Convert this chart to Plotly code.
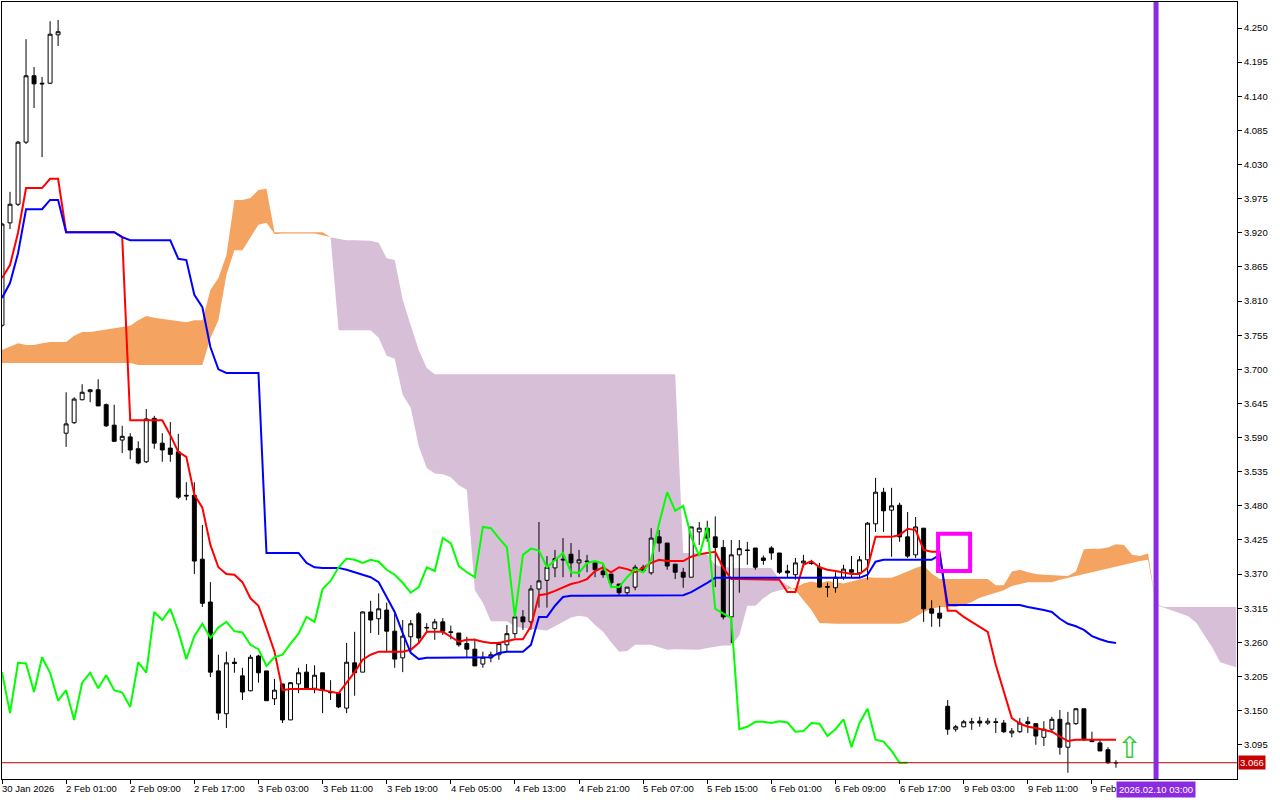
import plotly.graph_objects as go

# ---------------- data (H1 bars, index 0 = 30 Jan 2026 last bars) ----------------
opens = [
    3.771, 3.936, 3.966, 4.066, 4.173, 4.161, 4.161, 4.239, 3.597, 3.614,
    3.651, 3.664, 3.667, 3.643, 3.610, 3.586, 3.591, 3.572, 3.551, 3.621,
    3.581, 3.573, 3.567, 3.497, 3.497, 3.394, 3.325, 3.214, 3.145, 3.228,
    3.206, 3.182, 3.238, 3.214, 3.169, 3.193, 3.135, 3.193, 3.212, 3.186,
    3.211, 3.180, 3.178, 3.154, 3.227, 3.212, 3.309, 3.298, 3.312, 3.278,
    3.235, 3.269, 3.306, 3.283, 3.282, 3.293, 3.277, 3.275, 3.258, 3.249,
    3.225, 3.235, 3.240, 3.256, 3.274, 3.301, 3.293, 3.346, 3.360, 3.380,
    3.394, 3.402, 3.388, 3.391, 3.388, 3.375, 3.370, 3.354, 3.340, 3.349,
    3.381, 3.372, 3.430, 3.420, 3.386, 3.373, 3.365, 3.438, 3.444, 3.430,
    3.413, 3.301, 3.401, 3.409, 3.412, 3.396, 3.412, 3.404, 3.375, 3.369,
    3.388, 3.388, 3.381, 3.350, 3.348, 3.365, 3.377, 3.372, 3.393, 3.451,
    3.502, 3.473, 3.481, 3.430, 3.401, 3.444, 3.314, 3.307, 3.157, 3.120,
    3.124, 3.130, 3.133, 3.130, 3.132, 3.130, 3.114, 3.116, 3.132, 3.129,
    3.107, 3.120, 3.136, 3.091, 3.129, 3.153, 3.103, 3.098, 3.087, 3.066,
]
highs = [
    3.936, 3.986, 4.068, 4.232, 4.187, 4.171, 4.261, 4.263, 3.663, 3.655,
    3.676, 3.668, 3.684, 3.645, 3.643, 3.609, 3.597, 3.584, 3.636, 3.625,
    3.597, 3.615, 3.596, 3.518, 3.518, 3.449, 3.357, 3.240, 3.245, 3.235,
    3.219, 3.240, 3.240, 3.214, 3.201, 3.193, 3.196, 3.219, 3.225, 3.223,
    3.211, 3.199, 3.178, 3.259, 3.277, 3.310, 3.327, 3.339, 3.324, 3.307,
    3.296, 3.296, 3.309, 3.291, 3.298, 3.299, 3.287, 3.275, 3.269, 3.266,
    3.245, 3.245, 3.261, 3.288, 3.301, 3.312, 3.352, 3.454, 3.399, 3.409,
    3.428, 3.420, 3.409, 3.401, 3.388, 3.385, 3.370, 3.354, 3.349, 3.385,
    3.385, 3.444, 3.441, 3.420, 3.386, 3.380, 3.446, 3.454, 3.456, 3.463,
    3.425, 3.425, 3.425, 3.422, 3.412, 3.400, 3.415, 3.404, 3.385, 3.396,
    3.401, 3.393, 3.388, 3.356, 3.373, 3.385, 3.399, 3.399, 3.454, 3.525,
    3.509, 3.509, 3.485, 3.470, 3.462, 3.444, 3.328, 3.319, 3.167, 3.127,
    3.135, 3.138, 3.140, 3.138, 3.138, 3.135, 3.122, 3.138, 3.140, 3.129,
    3.133, 3.140, 3.151, 3.148, 3.154, 3.153, 3.116, 3.104, 3.091, 3.070,
]
lows = [
    3.768, 3.926, 3.963, 4.063, 4.121, 4.042, 4.160, 4.221, 3.575, 3.612,
    3.650, 3.647, 3.641, 3.607, 3.583, 3.565, 3.555, 3.547, 3.549, 3.572,
    3.551, 3.551, 3.491, 3.489, 3.370, 3.317, 3.204, 3.135, 3.122, 3.211,
    3.167, 3.181, 3.195, 3.166, 3.159, 3.130, 3.135, 3.178, 3.186, 3.178,
    3.146, 3.167, 3.154, 3.146, 3.174, 3.212, 3.275, 3.272, 3.246, 3.219,
    3.212, 3.243, 3.259, 3.275, 3.264, 3.272, 3.265, 3.253, 3.236, 3.222,
    3.219, 3.228, 3.232, 3.245, 3.267, 3.280, 3.280, 3.316, 3.316, 3.365,
    3.365, 3.365, 3.365, 3.373, 3.365, 3.364, 3.349, 3.336, 3.336, 3.344,
    3.373, 3.369, 3.406, 3.377, 3.362, 3.348, 3.365, 3.417, 3.422, 3.349,
    3.297, 3.259, 3.340, 3.385, 3.377, 3.385, 3.393, 3.370, 3.364, 3.361,
    3.381, 3.385, 3.348, 3.333, 3.340, 3.361, 3.365, 3.365, 3.361, 3.438,
    3.438, 3.398, 3.422, 3.396, 3.396, 3.293, 3.285, 3.285, 3.111, 3.116,
    3.123, 3.119, 3.124, 3.127, 3.114, 3.114, 3.107, 3.114, 3.114, 3.095,
    3.093, 3.114, 3.079, 3.050, 3.127, 3.101, 3.100, 3.085, 3.064, 3.058,
]
closes = [
    3.934, 3.966, 4.066, 4.173, 4.160, 4.160, 4.240, 4.244, 3.612, 3.652,
    3.663, 3.667, 3.641, 3.609, 3.584, 3.592, 3.570, 3.549, 3.620, 3.581,
    3.570, 3.563, 3.494, 3.496, 3.391, 3.323, 3.212, 3.146, 3.227, 3.226,
    3.180, 3.236, 3.211, 3.166, 3.183, 3.135, 3.195, 3.211, 3.186, 3.207,
    3.183, 3.179, 3.156, 3.228, 3.211, 3.309, 3.296, 3.314, 3.278, 3.233,
    3.270, 3.290, 3.267, 3.284, 3.293, 3.278, 3.276, 3.256, 3.249, 3.222,
    3.236, 3.240, 3.258, 3.274, 3.301, 3.293, 3.346, 3.359, 3.381, 3.395,
    3.393, 3.388, 3.393, 3.390, 3.377, 3.369, 3.356, 3.340, 3.349, 3.381,
    3.375, 3.428, 3.420, 3.383, 3.373, 3.365, 3.446, 3.444, 3.428, 3.413,
    3.301, 3.401, 3.411, 3.408, 3.381, 3.392, 3.404, 3.373, 3.372, 3.388,
    3.391, 3.387, 3.349, 3.349, 3.365, 3.378, 3.373, 3.393, 3.452, 3.502,
    3.472, 3.480, 3.430, 3.399, 3.446, 3.314, 3.307, 3.299, 3.120, 3.124,
    3.132, 3.132, 3.130, 3.133, 3.131, 3.116, 3.117, 3.130, 3.129, 3.109,
    3.120, 3.136, 3.091, 3.130, 3.153, 3.103, 3.100, 3.085, 3.066, 3.066,
]
tenkan = [
    3.847, 3.868, 3.920, 3.992, 3.992, 3.992, 4.007, 4.007, 3.921, 3.921,
    3.921, 3.921, 3.921, 3.921, 3.921, 3.913, 3.618, 3.618, 3.618, 3.618,
    3.618, 3.594, 3.567, 3.559, 3.498, 3.477, 3.417, 3.381, 3.370, 3.369,
    3.357, 3.331, 3.319, 3.283, 3.245, 3.183, 3.185, 3.185, 3.185, 3.185,
    3.183, 3.180, 3.178, 3.195, 3.212, 3.232, 3.240, 3.245, 3.245, 3.245,
    3.245, 3.248, 3.259, 3.277, 3.277, 3.277, 3.269, 3.261, 3.264, 3.264,
    3.261, 3.259, 3.259, 3.262, 3.265, 3.265, 3.286, 3.336, 3.338, 3.343,
    3.348, 3.354, 3.357, 3.362, 3.375, 3.381, 3.373, 3.381, 3.378, 3.373,
    3.380, 3.388, 3.393, 3.391, 3.391, 3.391, 3.398, 3.402, 3.404, 3.406,
    3.380, 3.362, 3.362, 3.362, 3.362, 3.362, 3.362, 3.361, 3.341, 3.341,
    3.385, 3.391, 3.381, 3.377, 3.375, 3.372, 3.370, 3.370, 3.380, 3.430,
    3.430, 3.430, 3.433, 3.443, 3.441, 3.409, 3.406, 3.406, 3.311, 3.311,
    3.301, 3.293, 3.286, 3.277, 3.224, 3.183, 3.138, 3.129, 3.124, 3.122,
    3.119, 3.116, 3.108, 3.101, 3.103, 3.103, 3.103, 3.103, 3.103, 3.103,
]
kijun = [
    3.815, 3.839, 3.887, 3.958, 3.958, 3.958, 3.973, 3.973, 3.921, 3.921,
    3.921, 3.921, 3.921, 3.921, 3.921, 3.913, 3.908, 3.908, 3.908, 3.908,
    3.908, 3.908, 3.878, 3.876, 3.820, 3.800, 3.736, 3.700, 3.694, 3.694,
    3.694, 3.694, 3.694, 3.404, 3.404, 3.404, 3.404, 3.404, 3.388, 3.381,
    3.380, 3.380, 3.380, 3.377, 3.373, 3.369, 3.365, 3.357, 3.332, 3.309,
    3.275, 3.243, 3.233, 3.235, 3.235, 3.235, 3.235, 3.235, 3.235, 3.235,
    3.235, 3.236, 3.243, 3.245, 3.245, 3.245, 3.256, 3.301, 3.301, 3.319,
    3.333, 3.335, 3.335, 3.335, 3.335, 3.335, 3.336, 3.336, 3.336, 3.336,
    3.336, 3.336, 3.336, 3.336, 3.336, 3.336, 3.341, 3.348, 3.356, 3.364,
    3.364, 3.364, 3.364, 3.364, 3.364, 3.364, 3.364, 3.364, 3.364, 3.364,
    3.364, 3.364, 3.364, 3.364, 3.364, 3.364, 3.364, 3.364, 3.369, 3.390,
    3.393, 3.393, 3.393, 3.393, 3.393, 3.393, 3.393, 3.401, 3.320, 3.320,
    3.320, 3.320, 3.320, 3.320, 3.320, 3.320, 3.320, 3.320, 3.317, 3.315,
    3.312, 3.309, 3.298, 3.290, 3.286, 3.280, 3.270, 3.265, 3.261, 3.259,
]
# Senkou spans as plotted (already displaced 26 bars forward), bars 0..154
span_a = [
    3.731, 3.736, 3.742, 3.739, 3.739, 3.742, 3.744, 3.744, 3.744, 3.754,
    3.760, 3.760, 3.762, 3.765, 3.767, 3.768, 3.770, 3.779, 3.786, 3.783,
    3.781, 3.779, 3.778, 3.776, 3.779, 3.779, 3.828, 3.847, 3.884, 3.973,
    3.973, 3.976, 3.989, 3.991, 3.921, 3.921, 3.921, 3.921, 3.921, 3.921,
    3.921, 3.913, 3.763, 3.763, 3.763, 3.763, 3.763, 3.751, 3.722, 3.717,
    3.659, 3.638, 3.576, 3.541, 3.532, 3.531, 3.526, 3.513, 3.506, 3.344,
    3.324, 3.294, 3.294, 3.294, 3.286, 3.283, 3.282, 3.280, 3.279, 3.286,
    3.293, 3.300, 3.303, 3.301, 3.288, 3.277, 3.260, 3.245, 3.246, 3.256,
    3.256, 3.256, 3.252, 3.248, 3.249, 3.249, 3.248, 3.248, 3.251, 3.253,
    3.255, 3.255, 3.271, 3.319, 3.319, 3.331, 3.340, 3.344, 3.346, 3.348,
    3.355, 3.358, 3.355, 3.359, 3.357, 3.355, 3.358, 3.362, 3.365, 3.364,
    3.364, 3.364, 3.369, 3.375, 3.380, 3.384, 3.371, 3.362, 3.362, 3.362,
    3.362, 3.362, 3.362, 3.362, 3.352, 3.352, 3.374, 3.377, 3.373, 3.370,
    3.369, 3.368, 3.367, 3.367, 3.374, 3.410, 3.411, 3.411, 3.413, 3.418,
    3.417, 3.401, 3.399, 3.403, 3.320, 3.316, 3.311, 3.307, 3.302, 3.292,
    3.272, 3.252, 3.228, 3.224, 3.220,
]
span_b = [
    3.710, 3.710, 3.710, 3.710, 3.710, 3.710, 3.710, 3.710, 3.710, 3.710,
    3.710, 3.710, 3.710, 3.710, 3.710, 3.710, 3.710, 3.707, 3.707, 3.707,
    3.707, 3.707, 3.707, 3.707, 3.707, 3.707, 3.750, 3.779, 3.852, 3.892,
    3.892, 3.912, 3.933, 3.936, 3.918, 3.919, 3.919, 3.919, 3.919, 3.919,
    3.916, 3.913, 3.910, 3.908, 3.908, 3.907, 3.907, 3.904, 3.879, 3.876,
    3.812, 3.771, 3.731, 3.702, 3.692, 3.692, 3.692, 3.692, 3.692, 3.692,
    3.692, 3.692, 3.692, 3.692, 3.692, 3.692, 3.692, 3.692, 3.692, 3.692,
    3.692, 3.692, 3.692, 3.692, 3.692, 3.692, 3.692, 3.692, 3.692, 3.692,
    3.692, 3.692, 3.692, 3.692, 3.692, 3.404, 3.404, 3.404, 3.401, 3.385,
    3.381, 3.380, 3.380, 3.380, 3.380, 3.380, 3.380, 3.361, 3.352, 3.344,
    3.328, 3.312, 3.291, 3.290, 3.290, 3.290, 3.290, 3.290, 3.290, 3.290,
    3.290, 3.290, 3.290, 3.293, 3.301, 3.309, 3.314, 3.317, 3.317, 3.317,
    3.320, 3.325, 3.332, 3.336, 3.341, 3.344, 3.351, 3.354, 3.357, 3.357,
    3.357, 3.357, 3.361, 3.364, 3.367, 3.370, 3.373, 3.377, 3.380, 3.383,
    3.385, 3.388, 3.391, 3.393, 3.322, 3.317, 3.317, 3.317, 3.317, 3.317,
    3.317, 3.317, 3.317, 3.317, 3.317,
]
CHIKOU_SHIFT = 26

tick_bars = [0, 8, 16, 24, 32, 40, 48, 56, 64, 72, 80, 88, 96, 104, 112, 120, 128, 136]
tick_labels = ["30 Jan 2026", "2 Feb 01:00", "2 Feb 09:00", "2 Feb 17:00", "3 Feb 03:00",
               "3 Feb 11:00", "3 Feb 19:00", "4 Feb 05:00", "4 Feb 13:00", "4 Feb 21:00",
               "5 Feb 07:00", "5 Feb 15:00", "6 Feb 01:00", "6 Feb 09:00", "6 Feb 17:00",
               "9 Feb 03:00", "9 Feb 11:00", "9 Feb"]
price_ticks = [4.250, 4.195, 4.140, 4.085, 4.030, 3.975, 3.920, 3.865, 3.810, 3.755, 3.700,
               3.645, 3.590, 3.535, 3.480, 3.425, 3.370, 3.315, 3.260, 3.205, 3.150, 3.095]

vline_bar = 144
vline_label = "2026.02.10 03:00"
rect_bars = [116.8, 120.8]
rect_prices = [3.375, 3.435]
arrow_bar = 140.7
arrow_price = 3.091

# cloud colour segments (start bar, end bar, kind)
cloud_segments = [(0, 41, "bull"), (41, 98, "bear"), (98, 144, "bull"), (144, 154, "bear")]

# ---------------- style ----------------
FONT = "Liberation Sans"
FSIZE = 9.5
SANDY = "#F4A460"
THISTLE = "#D8BFD8"
X_RANGE = [0, 154.1]
Y_RANGE = [3.0398, 4.2919]

fig = go.Figure()

# cloud (main axes, drawn underneath)
for s, e, kind in cloud_segments:
    xs = list(range(s, e + 1))
    fig.add_trace(go.Scatter(x=xs, y=span_a[s:e + 1], mode="lines", line=dict(width=0),
                             showlegend=False, hoverinfo="skip"))
    fig.add_trace(go.Scatter(x=xs, y=span_b[s:e + 1], mode="lines", line=dict(width=0),
                             fill="tonexty", fillcolor=SANDY if kind == "bull" else THISTLE,
                             showlegend=False, hoverinfo="skip"))

bars = list(range(len(closes)))
fig.add_trace(go.Candlestick(
    x=bars, open=opens, high=highs, low=lows, close=closes,
    increasing=dict(line=dict(color="black", width=1), fillcolor="white"),
    decreasing=dict(line=dict(color="black", width=1), fillcolor="black"),
    whiskerwidth=0, showlegend=False, xaxis="x2", yaxis="y2"))

fig.add_trace(go.Scatter(x=bars, y=tenkan, mode="lines", line=dict(color="#FF0000", width=2),
                         showlegend=False, xaxis="x2", yaxis="y2"))
fig.add_trace(go.Scatter(x=bars, y=kijun, mode="lines", line=dict(color="#0000FF", width=2),
                         showlegend=False, xaxis="x2", yaxis="y2"))
fig.add_trace(go.Scatter(x=[b - CHIKOU_SHIFT for b in bars[CHIKOU_SHIFT:]], y=closes[CHIKOU_SHIFT:],
                         mode="lines", line=dict(color="#00FF00", width=2),
                         showlegend=False, xaxis="x2", yaxis="y2"))

last_price = closes[-1]

shapes = [
    dict(type="line", xref="paper", x0=0, x1=1, yref="y", y0=last_price, y1=last_price,
         line=dict(color="#B40000", width=1), layer="above"),
    dict(type="line", xref="x", x0=vline_bar, x1=vline_bar, yref="paper", y0=0, y1=1,
         line=dict(color="#8A2BE2", width=5), layer="above"),
    dict(type="rect", xref="x", x0=rect_bars[0], x1=rect_bars[1], yref="y",
         y0=rect_prices[0], y1=rect_prices[1], line=dict(color="#FF00FF", width=4),
         fillcolor="rgba(0,0,0,0)", layer="above"),
]

annotations = []
for b, t in zip(tick_bars, tick_labels):
    annotations.append(dict(x=b, xref="x", y=0, yref="paper", yanchor="top", xanchor="left",
                            yshift=-2, xshift=-2, text=t, showarrow=False,
                            font=dict(family=FONT, size=FSIZE, color="black")))
annotations.append(dict(x=vline_bar, xref="x", y=0, yref="paper", yanchor="top", xanchor="center",
                        yshift=-2, text=vline_label, showarrow=False, bgcolor="#8A2BE2",
                        borderpad=2, font=dict(family=FONT, size=FSIZE, color="white")))
annotations.append(dict(x=1, xref="paper", y=last_price, yref="y", xanchor="left", yanchor="middle",
                        xshift=1, text=f"{last_price:.3f}", showarrow=False, bgcolor="#C80000",
                        borderpad=1, font=dict(family=FONT, size=FSIZE, color="white")))
annotations.append(dict(x=arrow_bar, xref="x", y=arrow_price, yref="y", text="⇧", showarrow=False,
                        font=dict(family="DejaVu Sans", size=30, color="#32CD32")))

fig.update_layout(
    width=1280, height=800,
    margin=dict(l=2, r=43, t=2, b=21),
    paper_bgcolor="white", plot_bgcolor="white",
    showlegend=False,
    xaxis=dict(range=X_RANGE, showgrid=False, zeroline=False, showline=True, mirror=True,
               linecolor="black", linewidth=1, ticks="outside", ticklen=4, tickcolor="black",
               tickvals=tick_bars, showticklabels=False, fixedrange=True),
    yaxis=dict(range=Y_RANGE, side="right", showgrid=False, zeroline=False, showline=True,
               mirror=True, linecolor="black", linewidth=1, ticks="outside", ticklen=4,
               tickcolor="black", tickvals=price_ticks,
               ticktext=[f"{p:.3f}" for p in price_ticks],
               tickfont=dict(family=FONT, size=FSIZE, color="black")),
    xaxis2=dict(range=X_RANGE, overlaying="x", visible=False, rangeslider=dict(visible=False)),
    yaxis2=dict(range=Y_RANGE, overlaying="y", visible=False),
    shapes=shapes, annotations=annotations,
)

fig.write_html("out.html", config={"displayModeBar": False},
               post_script="document.body.style.margin='0';document.body.style.overflow='hidden';")
